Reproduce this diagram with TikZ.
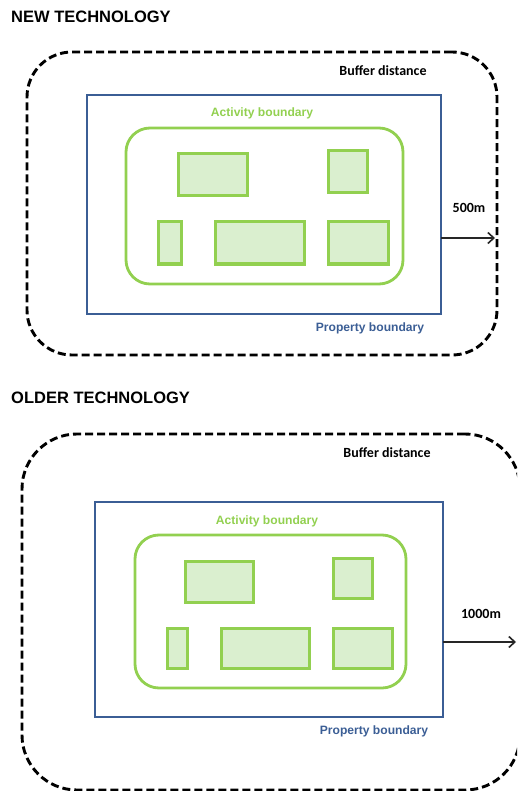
\documentclass[tikz,border=0pt]{standalone}
\usepackage{fontspec}
\setmainfont{Liberation Sans}
\newfontfamily\carlito{Carlito}
\usetikzlibrary{arrows.meta}
\definecolor{propblue}{HTML}{3B5E95}
\definecolor{actgreen}{HTML}{92D050}
\definecolor{sitefill}{HTML}{DAEFCF}

\begin{document}
\begin{tikzpicture}[x=1pt,y=-1pt]
    \tikzstyle{buffer}=[draw=black,line width=2.9pt,dash pattern=on 8pt off 4pt,anchor=north west,outer sep=0pt]
    \tikzstyle{property}=[draw=propblue,line width=2.8pt,anchor=north west,outer sep=0pt]
    \tikzstyle{activity}=[draw=actgreen,line width=2.8pt,rounded corners=24pt,anchor=north west,outer sep=0pt]
    \tikzstyle{site}=[draw=actgreen,fill=sitefill,line width=3pt,anchor=north west,outer sep=0pt]
    \tikzstyle{heading}=[anchor=base west,inner sep=0pt,font=\bfseries\fontsize{16.5}{18}\selectfont]
    \tikzstyle{label}=[anchor=base,inner sep=0pt,font=\carlito\bfseries\fontsize{14}{16}\selectfont]
    \tikzstyle{boundlabel}=[anchor=base,inner sep=0pt,font=\bfseries\fontsize{12.1}{14}\selectfont]
    \tikzstyle{dist}=[draw=black!85,line width=1.6pt,-{Straight Barb[length=6pt,width=11pt,line width=1.6pt]}]

    \clip (0,0) rectangle (517,791);

    % new technology
    \node[heading] at (11,23) (t1) {NEW TECHNOLOGY};
    \node[buffer,rounded corners=45pt,minimum width=470pt,minimum height=303pt] at (27,52) (buf1) {};
    \node[property,minimum width=354pt,minimum height=219pt] at (87,95) (prop1) {};
    \node[activity,minimum width=277pt,minimum height=156pt] at (126,128) (act1) {};
    \node[site,minimum width=69pt,minimum height=42pt] at (178,154) (s1a) {};
    \node[site,minimum width=39pt,minimum height=42pt] at (328,151) (s1b) {};
    \node[site,minimum width=23pt,minimum height=42pt] at (158,222) (s1c) {};
    \node[site,minimum width=89pt,minimum height=42pt] at (215,222) (s1d) {};
    \node[site,minimum width=60pt,minimum height=42pt] at (328,222) (s1e) {};
    \node[label] at (383,76) (l1buf) {Buffer distance};
    \node[boundlabel,text=actgreen] at (262,117) (l1act) {Activity boundary};
    \node[boundlabel,text=propblue] at (370,331) (l1prop) {Property boundary};
    \node[label] at (469,213) (d1) {500m};
    \coordinate (e1) at (495,238);
    \draw[dist] (prop1.east |- e1) -- (e1);

    % older technology
    \node[heading] at (11,403) (t2) {OLDER TECHNOLOGY};
    \node[buffer,rounded corners=55pt,minimum width=498pt,minimum height=356pt] at (22,434) (buf2) {};
    \node[property,minimum width=348pt,minimum height=215pt] at (95,502) (prop2) {};
    \node[activity,minimum width=271pt,minimum height=153pt] at (135,535) (act2) {};
    \node[site,minimum width=68pt,minimum height=41pt] at (185,561) (s2a) {};
    \node[site,minimum width=39pt,minimum height=40pt] at (333,558) (s2b) {};
    \node[site,minimum width=20pt,minimum height=40pt] at (167,628) (s2c) {};
    \node[site,minimum width=88pt,minimum height=40pt] at (221,628) (s2d) {};
    \node[site,minimum width=59pt,minimum height=40pt] at (333,628) (s2e) {};
    \node[label] at (387,457) (l2buf) {Buffer distance};
    \node[boundlabel,text=actgreen] at (267,524) (l2act) {Activity boundary};
    \node[boundlabel,text=propblue] at (374,734) (l2prop) {Property boundary};
    \node[label] at (481,618) (d2) {1000m};
    \coordinate (e2) at (516,642);
    \draw[dist] (prop2.east |- e2) -- (e2);
\end{tikzpicture}
\end{document}
